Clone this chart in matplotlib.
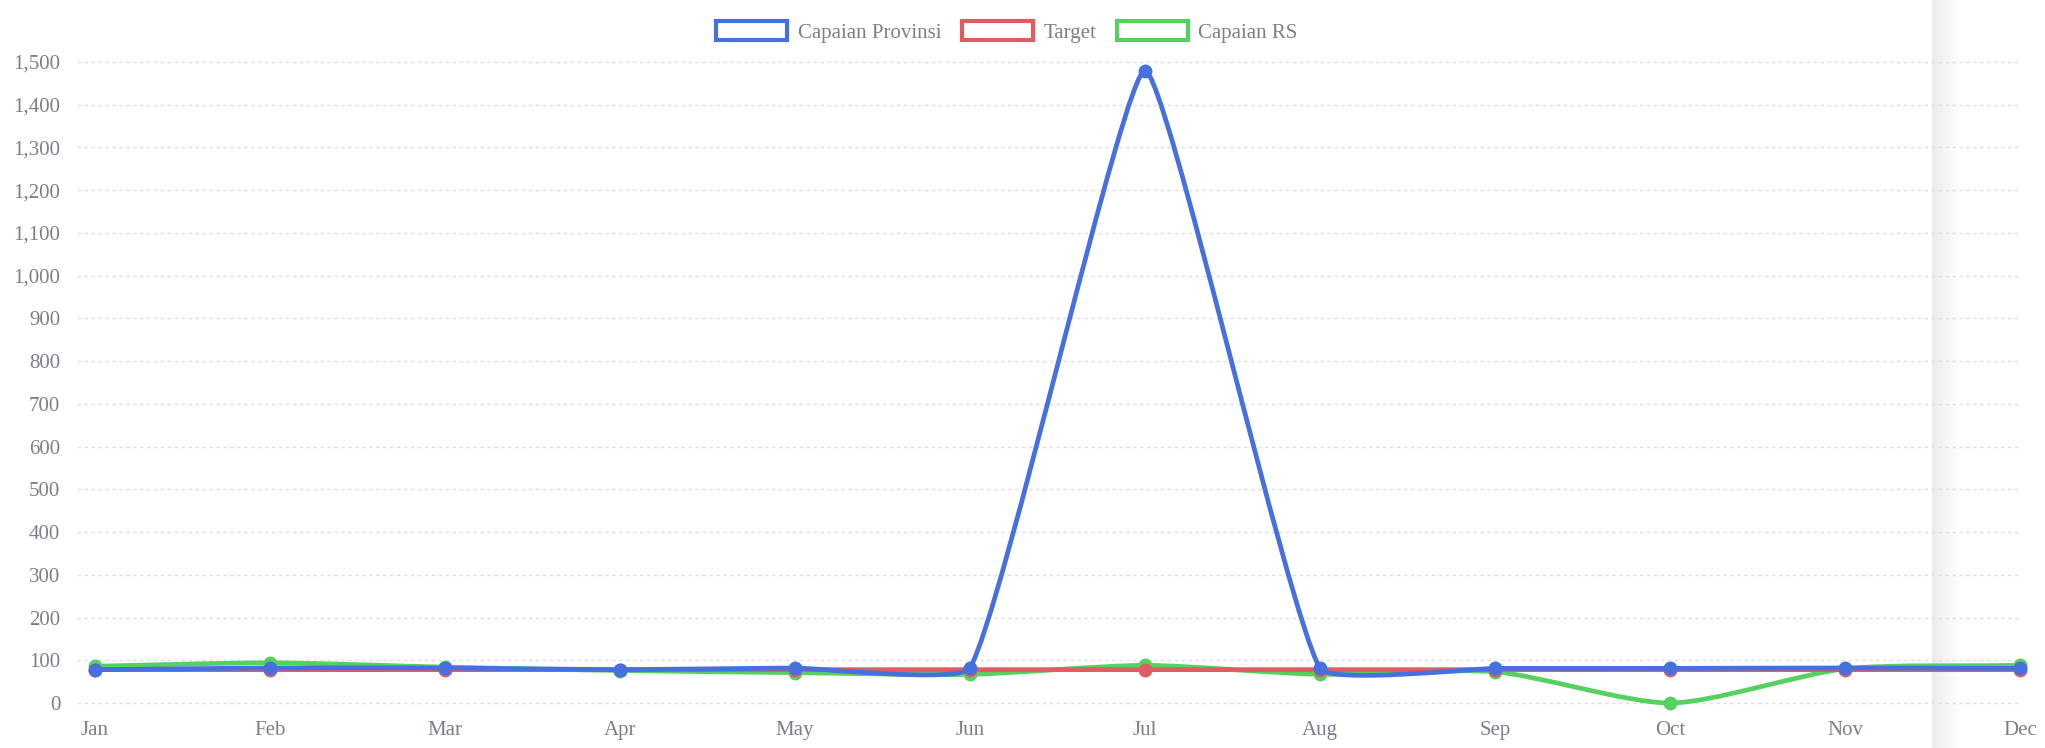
import matplotlib
matplotlib.use('Agg')
import matplotlib.pyplot as plt
from matplotlib.path import Path
from matplotlib.patches import PathPatch, Patch
import numpy as np

months = ['Jan', 'Feb', 'Mar', 'Apr', 'May', 'Jun', 'Jul', 'Aug', 'Sep', 'Oct', 'Nov', 'Dec']
capaian_provinsi = [78, 82, 82, 78, 82, 82, 1480, 81, 81, 81, 82, 81]
target = [78, 78, 78, 78, 78, 78, 78, 78, 78, 78, 78, 78]
capaian_rs = [86, 94, 84, 76, 71, 67, 88, 67, 73, 0, 80, 88]
yticks = list(range(0, 1600, 100))

col_blue = '#4570de'
col_red = '#e05c62'
col_green = '#55d160'
txt_col = '#7b7e8c'
grid_col = '#dde0e6'

plt.rcParams['font.family'] = ['Liberation Serif', 'DejaVu Serif']

W, H = 2045, 748
fig = plt.figure(figsize=(W / 100, H / 100), dpi=100)

# the grey shadow band on the right of the screenshot
band = fig.add_axes([1932 / W, 0, 28 / W, 1], zorder=0)
grad = np.linspace(0, 1, 64).reshape(1, -1)
band.imshow(grad, aspect='auto', cmap=matplotlib.colors.LinearSegmentedColormap.from_list(
    'band', ['#ececec', '#ffffff']), extent=[0, 1, 0, 1])
band.axis('off')

ax = fig.add_axes([95 / W, 1 - 703 / H, (2020 - 95) / W, (703 - 62) / H], zorder=1)
ax.patch.set_alpha(0)
ax.set_xlim(0, len(months) - 1)
ax.set_ylim(0, 1500)


def spline_path(vals, tension=0.1):
    """ Chart.js style bezier (splineCurve + capBezierPoints) in pixel space. """
    xs = np.arange(len(vals))
    pts = ax.transData.transform(np.column_stack([xs, vals]))
    x0, y0, x1, y1 = ax.bbox.x0, ax.bbox.y0, ax.bbox.x1, ax.bbox.y1
    n = len(pts)
    prev_cp = np.zeros_like(pts)
    next_cp = np.zeros_like(pts)
    for i in range(n):
        p0 = pts[i - 1] if i > 0 else pts[i]
        p1 = pts[i]
        p2 = pts[i + 1] if i < n - 1 else pts[i]
        d01 = np.hypot(*(p1 - p0))
        d12 = np.hypot(*(p2 - p1))
        tot = d01 + d12
        s01 = d01 / tot if tot > 0 else 0
        s12 = d12 / tot if tot > 0 else 0
        fa = tension * s01
        fb = tension * s12
        prev_cp[i] = p1 - fa * (p2 - p0)
        next_cp[i] = p1 + fb * (p2 - p0)
    prev_cp[:, 0] = np.clip(prev_cp[:, 0], x0, x1)
    next_cp[:, 0] = np.clip(next_cp[:, 0], x0, x1)
    prev_cp[:, 1] = np.clip(prev_cp[:, 1], y0, y1)
    next_cp[:, 1] = np.clip(next_cp[:, 1], y0, y1)
    verts = [pts[0]]
    codes = [Path.MOVETO]
    for i in range(n - 1):
        verts += [next_cp[i], prev_cp[i + 1], pts[i + 1]]
        codes += [Path.CURVE4] * 3
    verts = ax.transData.inverted().transform(np.array(verts))
    return Path(verts, codes)


series = [
    ('Capaian RS', capaian_rs, col_green, 2, 0.25),
    ('Target', target, col_red, 3, 0.25),
    ('Capaian Provinsi', capaian_provinsi, col_blue, 4, 0.12),
]
for name, vals, col, z, tens in series:
    patch = PathPatch(spline_path(vals, tens), facecolor='none', edgecolor=col,
                      linewidth=3.4, zorder=z, clip_on=False, capstyle='round', joinstyle='round')
    ax.add_patch(patch)
    ax.plot(np.arange(len(vals)), vals, 'o', color=col, markersize=10,
            markeredgewidth=0, zorder=z + 0.5, clip_on=False)

# grid lines
for t in yticks:
    ax.axhline(t, xmin=-18 / 1925, xmax=1, color=grid_col, linewidth=1,
               linestyle=(0, (2.5, 2.5)), zorder=1, clip_on=False)

ax.set_yticks(yticks)
ax.set_yticklabels(['{:,}'.format(t) for t in yticks])
ax.set_xticks(np.arange(len(months)))
ax.set_xticklabels(months)
ax.tick_params(axis='y', length=0, pad=25, labelsize=15, labelcolor=txt_col)
ax.tick_params(axis='x', length=0, pad=13, labelsize=15, labelcolor=txt_col)
for s in ax.spines.values():
    s.set_visible(False)

handles = [Patch(facecolor='white', edgecolor=c, linewidth=3, label=n)
           for n, c in [('Capaian Provinsi', col_blue), ('Target', col_red), ('Capaian RS', col_green)]]
leg = fig.legend(handles=handles, loc='center', bbox_to_anchor=(1007 / W, 1 - 32 / H), ncol=3,
                 frameon=False, fontsize=15, handlelength=3.4, handleheight=1.0,
                 handletextpad=0.5, columnspacing=1.0)
for t in leg.get_texts():
    t.set_color(txt_col)

fig.savefig('out.png', dpi=100)
